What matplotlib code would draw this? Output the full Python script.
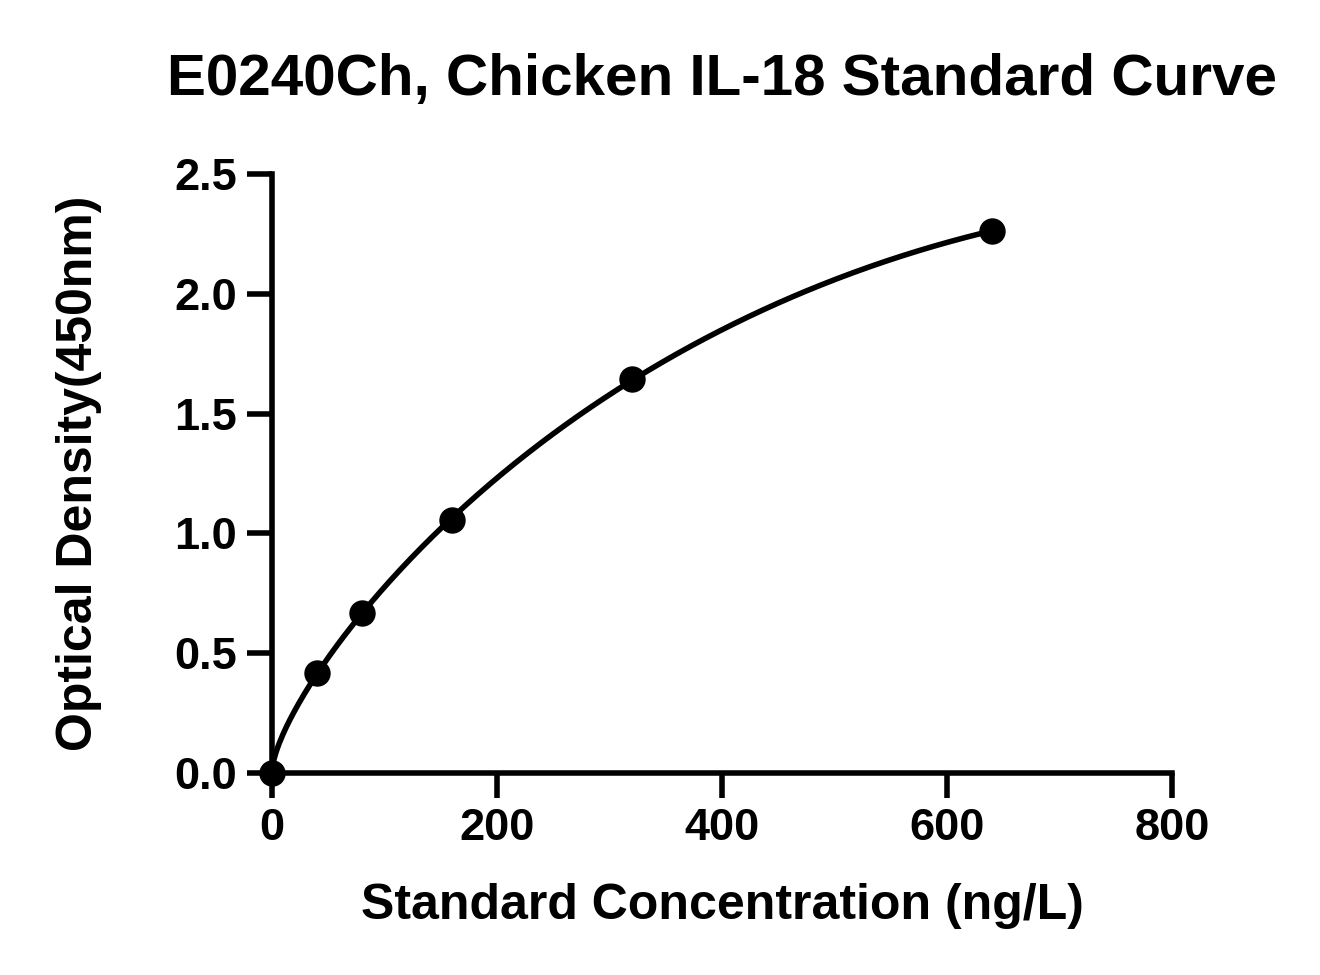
import numpy as np
import matplotlib
matplotlib.use("Agg")
import matplotlib.pyplot as plt

plt.rcParams['font.family'] = ['Liberation Sans', 'DejaVu Sans']
plt.rcParams['font.weight'] = 'bold'

concentration = [0, 40, 80, 160, 320, 640]
optical_density = [0.0, 0.417, 0.668, 1.056, 1.644, 2.262]
x_ticks = [0, 200, 400, 600, 800]
y_ticks = [0.0, 0.5, 1.0, 1.5, 2.0, 2.5]
title = "E0240Ch, Chicken IL-18 Standard Curve"
xlabel = "Standard Concentration (ng/L)"
ylabel = "Optical Density(450nm)"

x = np.array(concentration, dtype=float)
y = np.array(optical_density, dtype=float)
s = np.sqrt(x)
A = np.column_stack([s, x, x * s])
coef, *_ = np.linalg.lstsq(A, y, rcond=None)
xf = np.linspace(0, x.max(), 400)
sf = np.sqrt(xf)
yf = np.column_stack([sf, xf, xf * sf]) @ coef

fig = plt.figure(figsize=(13.2, 9.75), dpi=100)
ax = fig.add_axes([272/1320, 1 - 773/975, 900/1320, 599/975])
ax.plot(xf, yf, color='black', lw=4.0, zorder=2)
ax.plot(x, y, 'o', color='black', ms=18, zorder=3, clip_on=False)

ax.set_xlim(0, 800)
ax.set_ylim(0, 2.5)
ax.set_xticks(x_ticks)
ax.set_yticks(y_ticks)
ax.set_xticklabels([f"{v:d}" for v in x_ticks])
ax.set_yticklabels([f"{v:.1f}" for v in y_ticks])
for sp in ['top', 'right']:
    ax.spines[sp].set_visible(False)
for sp in ['left', 'bottom']:
    ax.spines[sp].set_linewidth(4.0)
ax.tick_params(axis='both', direction='out', length=18, width=4.0,
               labelsize=32.5, pad=7)
for lab in ax.get_xticklabels() + ax.get_yticklabels():
    lab.set_fontweight('bold')

ax.set_xlabel(xlabel, fontsize=36, fontweight='bold', labelpad=25)
ax.set_ylabel(ylabel, fontsize=36, fontweight='bold', labelpad=52)
fig.text(722/1320, 1 - 80/975, title, fontsize=42, fontweight='bold',
         ha='center', va='center')

fig.savefig("out.png", dpi=100, facecolor='white')
